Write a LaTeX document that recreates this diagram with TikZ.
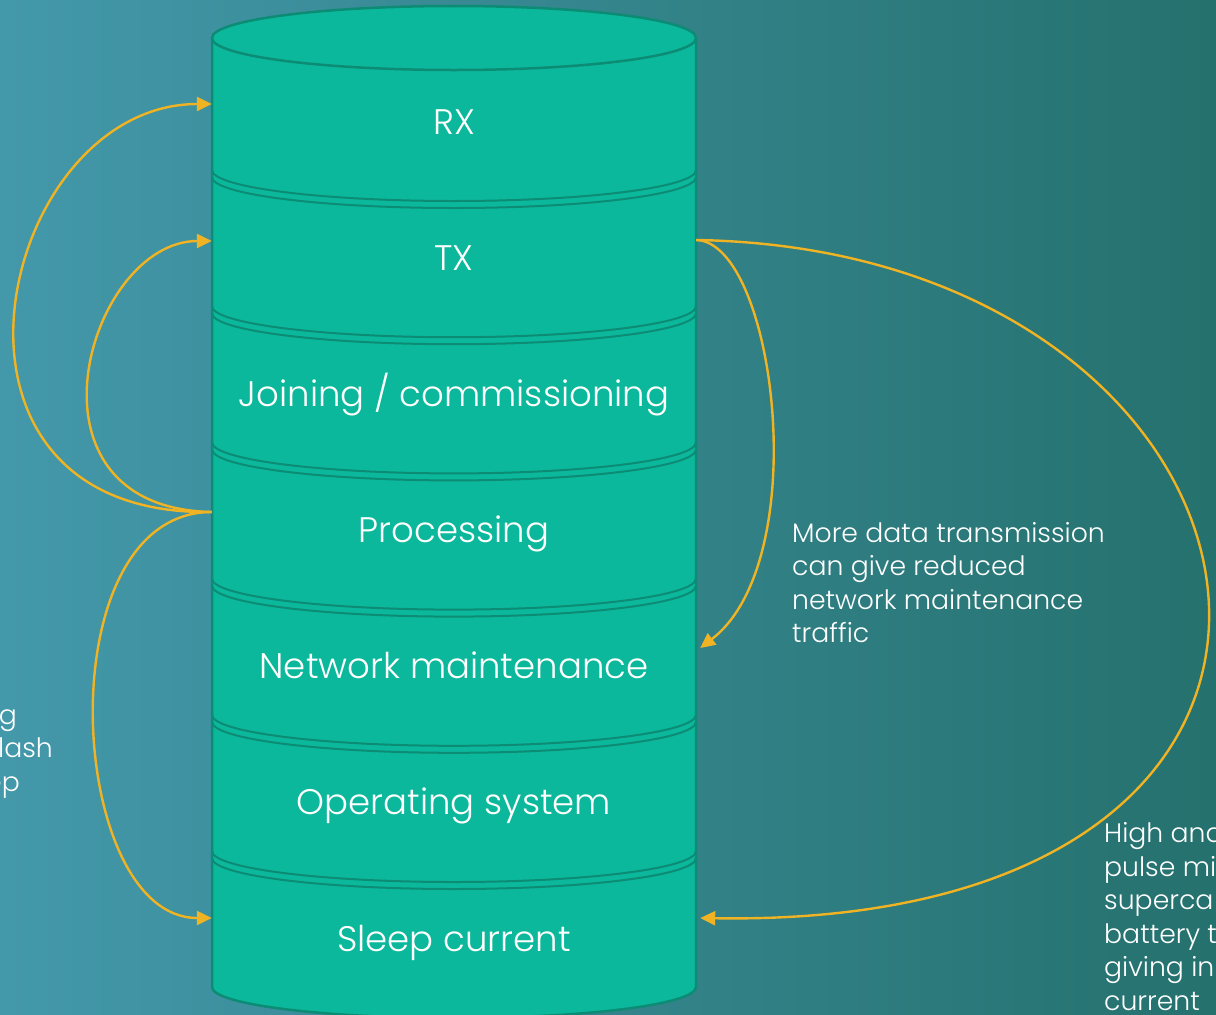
\documentclass[tikz,border=0pt]{standalone}
\usepackage{fontspec}
\setmainfont{Poppins Light}
\usetikzlibrary{arrows.meta}
\definecolor{bgL}{HTML}{4398AA}
\definecolor{bgR}{HTML}{25716E}
\definecolor{can}{HTML}{0BB89C}
\definecolor{canedge}{HTML}{0C8B75}
\definecolor{linkc}{HTML}{F0B323}
\begin{document}
\begin{tikzpicture}[x=1pt,y=1pt,
  layer/.style={text=white, font=\fontsize{35.5}{42}\selectfont, minimum width=484pt,
    inner sep=0pt, text height=27pt, text depth=0pt, anchor=base},
  note/.style={text=white, font=\fontsize{26.7}{33.5}\selectfont, inner sep=0pt,
    align=left, anchor=base west},
  frag/.style={text=white, font=\fontsize{26.7}{33.5}\selectfont, inner sep=0pt, anchor=base east},
  link/.style={draw=linkc, line width=2.4pt, -{Triangle[length=15pt,width=14pt]}},
  seam/.style={draw=canedge, line width=2pt}]
% background
\shade[left color=bgL, right color=bgR] (0,0) rectangle (1216,-1015);
\useasboundingbox (0,0) rectangle (1216,-1015);

% cylinder body
\fill[can] (212,-38) -- (212,-987)
  arc[start angle=180,end angle=360,x radius=242,y radius=31] -- (696,-38) -- cycle;
\draw[canedge, line width=2.5pt] (212,-38) -- (212,-987)
  arc[start angle=180,end angle=360,x radius=242,y radius=31] -- (696,-38);
% cylinder lid
\filldraw[fill=can, draw=canedge, line width=2.5pt] (454,-38) ellipse[x radius=242,y radius=32];
% seams between the stacked layers
\foreach \e in {170,306.2,442.4,578.6,714.8,851} {
  \draw[seam] (212,-\e) arc[start angle=180,end angle=360,x radius=242,y radius=31];
  \draw[seam] (212,-\e-7) arc[start angle=180,end angle=360,x radius=242,y radius=31];
}

% layers
\node[layer] (rx)    at (454,-134)   {RX};
\node[layer] (tx)    at (454,-270.2) {TX};
\node[layer] (join)  at (454,-406.3) {Joining / commissioning};
\node[layer] (proc)  at (454,-542.5) {Processing};
\node[layer] (netm)  at (454,-678.7) {Network maintenance};
\node[layer] (os)    at (454,-814.8) {Operating system};
\node[layer] (sleep) at (454,-951)   {Sleep current};

% connectors
\draw[link] ([yshift=17pt]proc.west) .. controls (-96,-517) and (-2,-104) .. ([yshift=16.5pt]rx.west);
\draw[link] ([yshift=17pt]proc.west) .. controls (10,-508) and (88,-241) .. ([yshift=15.7pt]tx.west);
\draw[link] ([yshift=17pt]proc.west) .. controls (45,-512) and (66,-918) .. ([yshift=19.5pt]sleep.west);
\draw[link] ([yshift=16.7pt]tx.east) .. controls (775,-242) and (815,-560) .. ([shift={(4pt,17.2pt)}]netm.east);
\draw[link] ([yshift=16.7pt]tx.east) .. controls (1310,-250) and (1440,-930) .. ([shift={(4pt,19.5pt)}]sleep.east);

% notes
\node[note] (n1) at (792,-642.5) {More data transmission\\can give reduced\\network maintenance\\traffic};
\node[note] (n2) at (1104,-1010) {High and\\pulse mi\\superca\\battery t\\giving in\\current};
\node[frag] (f1) at (17,-724) {g};
\node[frag] (f2) at (53,-757) {lash};
\node[frag] (f3) at (20,-791) {ep};
\end{tikzpicture}
\end{document}
